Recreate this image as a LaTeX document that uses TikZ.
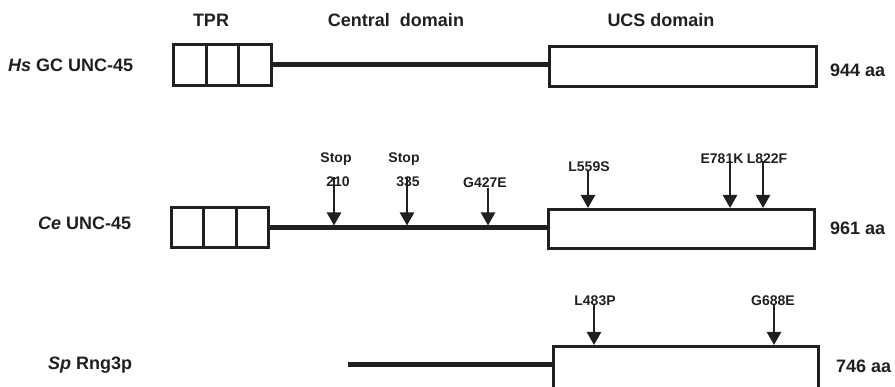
\documentclass[tikz,border=0pt]{standalone}
\usepackage{fontspec}
\setmainfont{Liberation Sans}
\usetikzlibrary{arrows.meta}
\definecolor{ink}{HTML}{231F20}
\tikzset{
  big/.style={font=\fontsize{18}{20}\selectfont\bfseries, text=ink, inner sep=0pt, anchor=base},
  bigw/.style={big, anchor=base west},
  small/.style={font=\fontsize{14}{16}\selectfont\bfseries, text=ink, inner sep=0pt, anchor=base},
  boxed/.style={draw=ink, line width=3pt, inner sep=0pt, fill=white},
  backbone/.style={draw=ink, line width=5pt},
  mut/.style={draw=ink, line width=2.5pt, -{Triangle[width=14pt,length=13pt]}},
}
\begin{document}
\begin{tikzpicture}[x=1pt, y=-1pt]
\clip (0,0) rectangle (895,387);

% headers
\node[big] (hTPR) at (211,27) {TPR};
\node[big] (hCen) at (396,27) {Central\ \ domain};
\node[big] (hUCS) at (661,26.5) {UCS domain};

% row labels
\node[bigw] (nHs) at (8,71.5) {\textit{Hs} GC UNC-45};
\node[bigw] (nCe) at (38,229.5) {\textit{Ce} UNC-45};
\node[bigw] (nSp) at (48,369.5) {\textit{Sp} Rng3p};
\node[bigw] (aa1) at (830,76.5) {944 aa};
\node[bigw] (aa2) at (830,234.5) {961 aa};
\node[bigw] (aa3) at (836,372.5) {746 aa};

% row 1
\node[boxed, minimum width=32.67pt, minimum height=41pt] (t1a) at (189.83,65) {};
\node[boxed, minimum width=32.67pt, minimum height=41pt] (t1b) at (222.5,65) {};
\node[boxed, minimum width=32.67pt, minimum height=41pt] (t1c) at (255.17,65) {};
\node[boxed, minimum width=267pt, minimum height=40pt] (u1) at (683,66.5) {};
\draw[backbone] (t1c.east) -- (t1c.east -| u1.west);

% row 2
\node[boxed, minimum width=32.33pt, minimum height=40pt] (t2a) at (187.67,227.5) {};
\node[boxed, minimum width=32.33pt, minimum height=40pt] (t2b) at (220,227.5) {};
\node[boxed, minimum width=32.33pt, minimum height=40pt] (t2c) at (252.33,227.5) {};
\node[boxed, minimum width=266pt, minimum height=39pt] (u2) at (681.5,229) {};
\draw[backbone] (t2c.east) -- (t2c.east -| u2.west);

% row 3 (box runs past the bottom edge, as in the reference)
\node[boxed, minimum width=265pt, minimum height=44pt] (u3) at (686,368.5) {};
\coordinate (sp0) at (348,365);
\draw[backbone] (sp0) -- (sp0 -| u3.west);

% row 2 mutations
\node[small] (s1) at (336,163) {Stop};
\node[small] (n210) at (338,187) {210};
\node[small] (s2) at (404,163) {Stop};
\node[small] (n335) at (408,187) {335};
\node[small] (g427) at (485,188) {G427E};
\node[small] (l559) at (589,172) {L559S};
\node[small] (e781) at (722,164) {E781K};
\node[small] (l822) at (767,164) {L822F};

\coordinate (p210) at (334,225.5);
\coordinate (p335) at (407,225.5);
\coordinate (p427) at (488,225.5);
\coordinate (p559) at (588,208);
\coordinate (p781) at (730,208);
\coordinate (p822) at (763,208);

\draw[mut] (n210.north -| p210) -- (p210);
\draw[mut] (n335.north -| p335) -- (p335);
\draw[mut] (g427.south -| p427) -- (p427);
\draw[mut] ([yshift=1pt]l559.south -| p559) -- (p559);
\draw[mut] ([yshift=3pt]e781.south -| p781) -- (p781);
\draw[mut] ([yshift=3pt]l822.south -| p822) -- (p822);

% row 3 mutations
\node[small] (l483) at (595,306) {L483P};
\node[small] (g688) at (773,306) {G688E};
\coordinate (p483) at (594,345);
\coordinate (p688) at (774,345);
\draw[mut] ([yshift=1pt]l483.south -| p483) -- (p483);
\draw[mut] ([yshift=1.5pt]g688.south -| p688) -- (p688);
\end{tikzpicture}
\end{document}
